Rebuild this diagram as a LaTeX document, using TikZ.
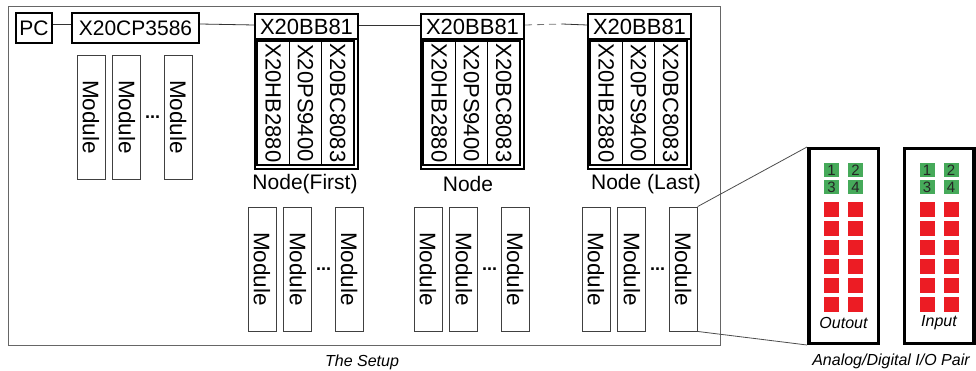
\documentclass[tikz,border=0pt]{standalone}
\usepackage{fontspec}
\setmainfont{Liberation Sans}
\usetikzlibrary{positioning}
\definecolor{iogreen}{RGB}{70,170,90}
\definecolor{iored}{RGB}{236,28,36}
\tikzset{
  hwbox/.style={draw, line width=2pt, inner sep=0pt, minimum height=30pt, font=\fontsize{21}{21}\selectfont},
  hdrbox/.style={draw, line width=2pt, inner sep=0pt, minimum width=103pt, minimum height=25pt, font=\fontsize{22}{22}\selectfont},
  grpbox/.style={draw, line width=2pt, minimum width=103pt, minimum height=155pt, inner sep=0pt},
  collabel/.style={inner sep=0pt, font=\fontsize{22}{22}\selectfont},
  modbox/.style={draw=black!75, line width=0.9pt, minimum width=28pt, minimum height=124pt, inner sep=0pt, font=\fontsize{22.5}{22.5}\selectfont},
  dotsnode/.style={inner sep=0pt, minimum width=22pt, font=\fontsize{18}{18}\selectfont\bfseries},
  caplabel/.style={inner sep=0pt, font=\fontsize{21}{21}\selectfont},
  setuplabel/.style={inner sep=0pt, font=\fontsize{16}{16}\selectfont\itshape},
  busline/.style={line width=0.8pt, black!80},
  iobox/.style={draw, line width=3.5pt, minimum width=69.5pt, minimum height=194.5pt, inner sep=0pt},
  greenled/.style={fill=iogreen, minimum width=15pt, minimum height=14pt, inner sep=0pt, text=black!85, font=\fontsize{15}{15}\selectfont},
  redled/.style={fill=iored, minimum width=15pt, minimum height=15pt, inner sep=0pt},
  iolabel/.style={inner sep=0pt, font=\fontsize{16}{16}\selectfont\itshape}
}
% three modules and the dots between them
\newcommand{\modrow}[3]{%
  \node[modbox] (#3a) at (#1+14,#2+62) {\rotatebox{-90}{Module}};
  \node[modbox, right=7pt of #3a] (#3b) {\rotatebox{-90}{Module}};
  \node[dotsnode, right=0pt of #3b] (#3d) {...};
  \node[modbox, right=0pt of #3d] (#3c) {\rotatebox{-90}{Module}};
}
\begin{document}
\begin{tikzpicture}[x=1pt, y=-1pt]
  \useasboundingbox (0,0) rectangle (976,371);

  % the setup frame
  \draw[black!60, line width=1pt] (8,7) rectangle (720,345);
  \node[setuplabel] (setup) at (362,362) {The Setup};

  \node[hwbox, minimum width=36pt] (pc) at (34,28) {PC};
  \node[hwbox, minimum width=127pt] (cp) at (135.5,28) {X20CP3586};
  \modrow{77}{55}{mA}

  % bus nodes
  \foreach \x/\n/\cx/\cap in {254/1/305/{Node(First)}, 420/2/468/Node, 587/3/646/{Node (Last)}}{
    \node[grpbox, anchor=north west] (grp\n) at (\x,13) {};
    \node[hdrbox, anchor=north west] (hdr\n) at (\x,13) {X20BB81};
    \draw[line width=1.6pt] (\x+3,41) rectangle (\x+100,165);
    \draw[line width=1.4pt] (\x+35.3,41) -- (\x+35.3,165) (\x+67.7,41) -- (\x+67.7,165);
    \node[collabel] (hb\n) at (\x+19.2,103) {\rotatebox{-90}{X20HB2880}};
    \node[collabel] (ps\n) at (\x+51.5,103) {\rotatebox{-90}{X20PS9400}};
    \node[collabel] (bc\n) at (\x+83.8,103) {\rotatebox{-90}{X20BC8083}};
    \node[caplabel] (cap\n) at (\cx,184) {\cap};
  }
  \modrow{248}{207}{m1}
  \modrow{414}{207}{m2}
  \modrow{582}{207}{m3}

  % bus line
  \coordinate (gap) at (562,24);
  \draw[busline] ([yshift=4pt]pc.east) -- ([yshift=4pt]cp.west);
  \draw[busline] ([yshift=4pt]cp.east) -- ([yshift=1.5pt]hdr1.west);
  \draw[busline] ([yshift=1.5pt]hdr1.east) -- ([yshift=1.5pt]hdr2.west);
  \draw[busline, black!55, dash pattern=on 7pt off 5pt] ([yshift=1.5pt]hdr2.east) -- (gap);
  \draw[busline] (gap) -- ([yshift=1.5pt]hdr3.west);

  % I/O pair
  \foreach \bx/\nm/\lab in {843.5/obox/Outout, 939/ibox/Input}{
    \node[iobox] (\nm) at (\bx,246) {};
    \node[greenled] at (\bx-12,170) {1};
    \node[greenled] at (\bx+12,170) {2};
    \node[greenled] at (\bx-12,187.5) {3};
    \node[greenled] at (\bx+12,187.5) {4};
    \foreach \r in {0,...,5}{
      \node[redled] at (\bx-12,209.5+19*\r) {};
      \node[redled] at (\bx+12,209.5+19*\r) {};
    }
    \node[iolabel] at (\bx,323) {\lab};
  }
  \node[setuplabel] (pair) at (891,361) {Analog/Digital I/O Pair};

  \draw[black!70, line width=0.8pt] (m3c.north east) -- (obox.north west);
  \draw[black!70, line width=0.8pt] (m3c.south east) -- (obox.south west);
\end{tikzpicture}
\end{document}
